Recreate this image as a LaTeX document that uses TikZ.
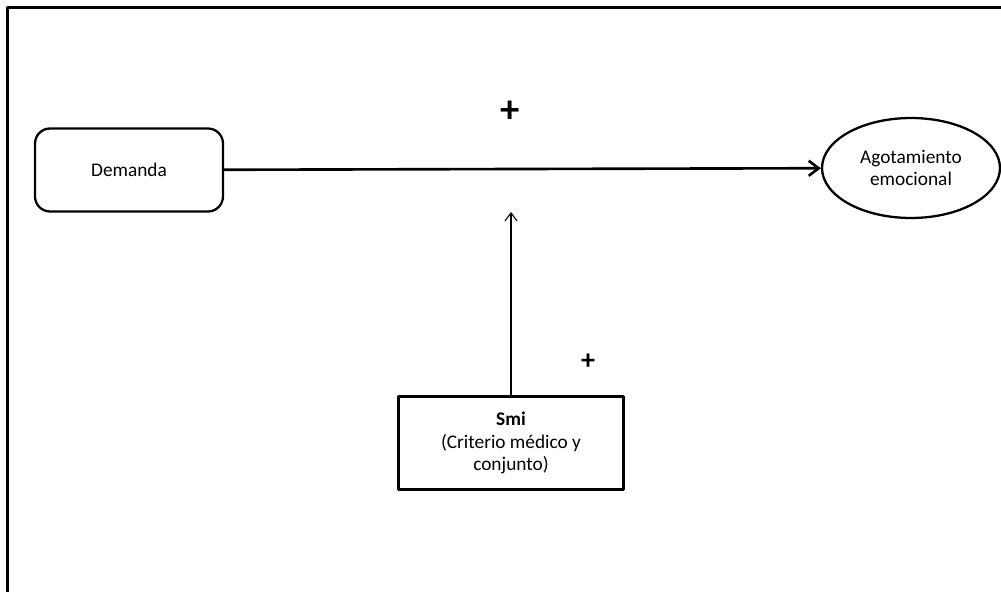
\documentclass[tikz,border=0pt]{standalone}
\usepackage{fontspec}
\setmainfont{Carlito}
\usetikzlibrary{arrows.meta,positioning,shapes.geometric}
\tikzset{
 modelo/.style={x=0.02cm,y=-0.02cm,font=\fontsize{11}{12.8}\selectfont,line join=round},
 marco/.style={draw=black,line width=1.8pt},
 varbox/.style={draw=black,line width=1.3pt,rounded corners=0.3cm,minimum width=3.76cm,minimum height=1.66cm,align=center},
 varoval/.style={ellipse,draw=black,line width=1.3pt,minimum width=3.56cm,minimum height=2.0cm,inner sep=0pt,align=center},
 modbox/.style={rectangle,draw=black,line width=1.5pt,minimum width=4.5cm,minimum height=1.86cm,align=center},
 efecto/.style={draw=black,line width=1.5pt,-{Straight Barb[length=2mm,width=3mm,line width=1.5pt]}},
 modera/.style={draw=black,line width=.6pt,-{Straight Barb[length=1.6mm,width=2.4mm,line width=.6pt]}},
 signo/.style={font=\fontsize{22}{22}\selectfont\bfseries,inner sep=0pt},
 signochico/.style={font=\fontsize{16}{16}\selectfont\bfseries,inner sep=0pt}
}

\begin{document}
\begin{tikzpicture}[modelo]
 \useasboundingbox (0,0) rectangle (1001,592);
 \draw[marco] (7.5,592) -- (7.5,7.5) -- (1001,7.5);
 \node[varbox] (demanda) at (129,170) {Demanda};
 \node[varoval] (agot) at (911,168) {Agotamiento\\emocional};
 \node[modbox] (smi) at (511,443) {\textbf{Smi}\\(Criterio médico y\\conjunto)};
 \coordinate (cruce) at (511,212);
 \draw[efecto] (demanda) -- (agot);
 \draw[modera] (smi) -- (cruce);
 \node[signo] (masA) at (510,112) {+};
 \node[signochico] (masB) at (588,362) {+};
\end{tikzpicture}
\end{document}
